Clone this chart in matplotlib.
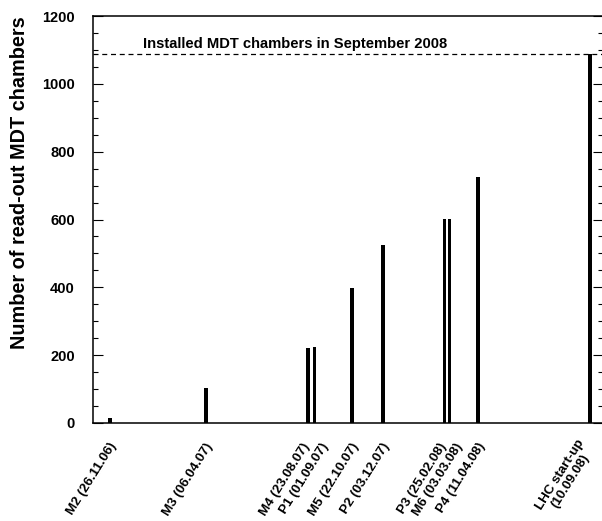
import datetime as dt
import matplotlib
matplotlib.use("Agg")
import matplotlib.pyplot as plt
import matplotlib.dates as mdates
import matplotlib.transforms as mtransforms
from matplotlib.ticker import MultipleLocator

# milestones (label, date, number of read-out chambers)
labels = ["M2 (26.11.06)", "M3 (06.04.07)", "M4 (23.08.07)", "P1 (01.09.07)",
          "M5 (22.10.07)", "P2 (03.12.07)", "P3 (25.02.08)", "M6 (03.03.08)",
          "P4 (11.04.08)", "LHC start-up\n(10.09.08)"]
dates = ["2006-11-26", "2007-04-06", "2007-08-23", "2007-09-01",
         "2007-10-22", "2007-12-03", "2008-02-25", "2008-03-03",
         "2008-04-11", "2008-09-10"]
chambers = [15, 102, 221, 224, 398, 526, 601, 601, 725, 1088]
installed = 1088

# extra horizontal shift of each label (pixels) so that close labels don't collide
label_shift = [0, 0, -5, 7, 0, 0, -5, 6, 0, -7]

plt.rcParams['font.family'] = ['Liberation Sans', 'DejaVu Sans']
plt.rcParams['font.weight'] = 'bold'

x = [mdates.date2num(dt.datetime.strptime(d, "%Y-%m-%d")) for d in dates]

fig = plt.figure(figsize=(6.02, 5.21), dpi=100)
ax = fig.add_axes([93 / 602, 98 / 521, 510 / 602, 407 / 521])

ax.bar(x, chambers, width=5, color="black", align="center")

ax.axhline(installed, color="black", linestyle=(0, (4, 3)), linewidth=0.9)
ax.text(0.098, installed + 8, "Installed MDT chambers in September 2008",
        transform=ax.get_yaxis_transform(),
        fontsize=10.6, fontweight="bold", va="bottom", ha="left")

ax.set_xlim(mdates.date2num(dt.datetime(2006, 11, 3)),
            mdates.date2num(dt.datetime(2008, 9, 28)))
ax.set_ylim(0, 1200)
ax.set_xticks([])

# rotated milestone labels below the axis
base = ax.get_xaxis_transform()
for xi, lab, sh in zip(x, labels, label_shift):
    off = mtransforms.ScaledTranslation((4 + sh) / 100, -21 / 100, fig.dpi_scale_trans)
    ax.text(xi, 0, lab, transform=base + off, rotation=58, rotation_mode="anchor",
            ha="right", va="center", multialignment="center",
            fontsize=9.6, fontweight="bold", linespacing=1.0)

ax.yaxis.set_major_locator(MultipleLocator(200))
ax.yaxis.set_minor_locator(MultipleLocator(50))
ax.tick_params(axis="y", which="both", direction="in", right=True, labelsize=10.5, pad=13)
ax.tick_params(axis="y", which="major", length=7.2, width=0.8)
ax.tick_params(axis="y", which="minor", length=3.6, width=0.8)
for lab in ax.get_yticklabels():
    lab.set_fontweight("bold")

ax.set_ylabel("Number of read-out MDT chambers", fontsize=14.3, fontweight="bold", loc="top")
ax.yaxis.set_label_coords(-(93 - 29) / 510, 1.0)

for s in ax.spines.values():
    s.set_linewidth(1.1)

fig.savefig("out.png", dpi=100)
